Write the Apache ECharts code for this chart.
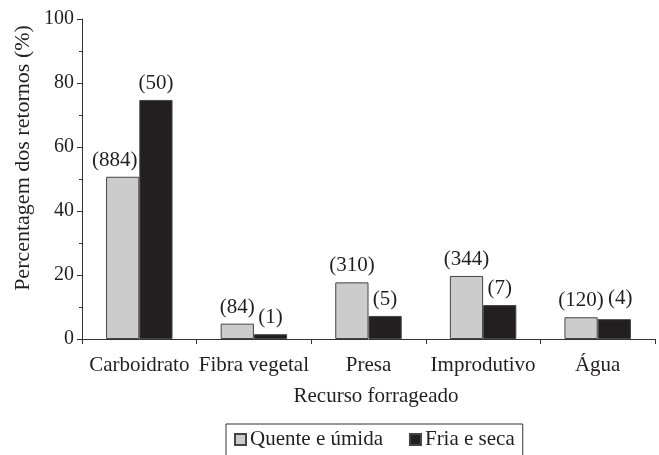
<!DOCTYPE html>
<html>
<head>
<meta charset="utf-8">
<script src="https://cdn.jsdelivr.net/npm/echarts@6/dist/echarts.min.js"></script>
<style>html,body{margin:0;padding:0;background:#fff}#c{width:659px;height:455px}</style>
</head>
<body>
<div id="c"></div>
<script>
const categories = ['Carboidrato', 'Fibra vegetal', 'Presa', 'Improdutivo', 'Água'];
const seriesNames = ['Quente e úmida', 'Fria e seca'];
const quenteValues = [50.7, 4.8, 17.7, 19.7, 6.8];
const friaValues = [74.7, 1.5, 7.2, 10.6, 6.2];
const quenteCounts = [884, 84, 310, 344, 120];
const friaCounts = [50, 1, 5, 7, 4];
const yTicks = [0, 20, 40, 60, 80, 100];
const xTitle = 'Recurso forrageado';
const yTitle = 'Percentagem dos retornos (%)';

const FONT = 'Liberation Serif';
const TXT = '#231f20';
const chart = echarts.init(document.getElementById('c'), null, {renderer: 'canvas'});

function mkSeries(name, vals, counts, color, nudge) {
  return {
    name: name,
    type: 'bar',
    data: vals.map((v, i) => {
      const d = {value: v, count: counts[i]};
      if (nudge[i]) d.label = {offset: nudge[i]};
      return d;
    }),
    barGap: '0%',
    barCategoryGap: '42%',
    itemStyle: {color: color, borderColor: '#444', borderWidth: 1},
    label: {
      show: true, position: 'top', distance: 6,
      fontFamily: FONT, fontSize: 21, color: TXT, overflow: 'none',
      formatter: p => '(' + p.data.count + ')'
    },
    emphasis: {disabled: true}
  };
}

chart.setOption({
  animation: false,
  textStyle: {fontFamily: FONT, color: TXT},
  grid: {left: 82, right: 4, top: 19, bottom: 116, containLabel: false},
  legend: {
    data: seriesNames,
    left: 226, top: 424,
    itemWidth: 11, itemHeight: 11, itemGap: 26,
    icon: 'rect',
    borderColor: '#333', borderWidth: 1, borderRadius: 0,
    padding: [5, 8, 12, 8],
    textStyle: {fontFamily: FONT, fontSize: 21, color: TXT, padding: [0, 0, 0, -1]}
  },
  graphic: [{
    type: 'text',
    x: 23, y: 158,
    rotation: Math.PI / 2,
    style: {
      text: yTitle, fontFamily: FONT, fontSize: 22, fill: TXT,
      align: 'center', verticalAlign: 'middle'
    }
  }],
  xAxis: {
    type: 'category',
    data: categories,
    name: xTitle,
    nameLocation: 'middle',
    nameGap: 47,
    nameTextStyle: {fontFamily: FONT, fontSize: 21, color: TXT, padding: [0, 0, 0, 15]},
    axisLine: {lineStyle: {color: '#333', width: 1}},
    axisTick: {show: true, length: 5, lineStyle: {color: '#333'}},
    axisLabel: {fontFamily: FONT, fontSize: 21, color: TXT, margin: 16, interval: 0}
  },
  yAxis: {
    type: 'value',
    min: yTicks[0], max: yTicks[yTicks.length - 1], interval: 20,
    axisLine: {show: true, lineStyle: {color: '#333', width: 1}},
    axisTick: {show: true, length: 5, lineStyle: {color: '#333'}},
    minorTick: {show: true, splitNumber: 2, length: 3, lineStyle: {color: '#333'}},
    splitLine: {show: false},
    axisLabel: {fontFamily: FONT, fontSize: 20, color: TXT, margin: 8}
  },
  series: [
    mkSeries(seriesNames[0], quenteValues, quenteCounts, '#cccccc', {0: [-8, 0]}),
    mkSeries(seriesNames[1], friaValues, friaCounts, '#231f20', {4: [6, -4]})
  ]
});
</script>
</body>
</html>
